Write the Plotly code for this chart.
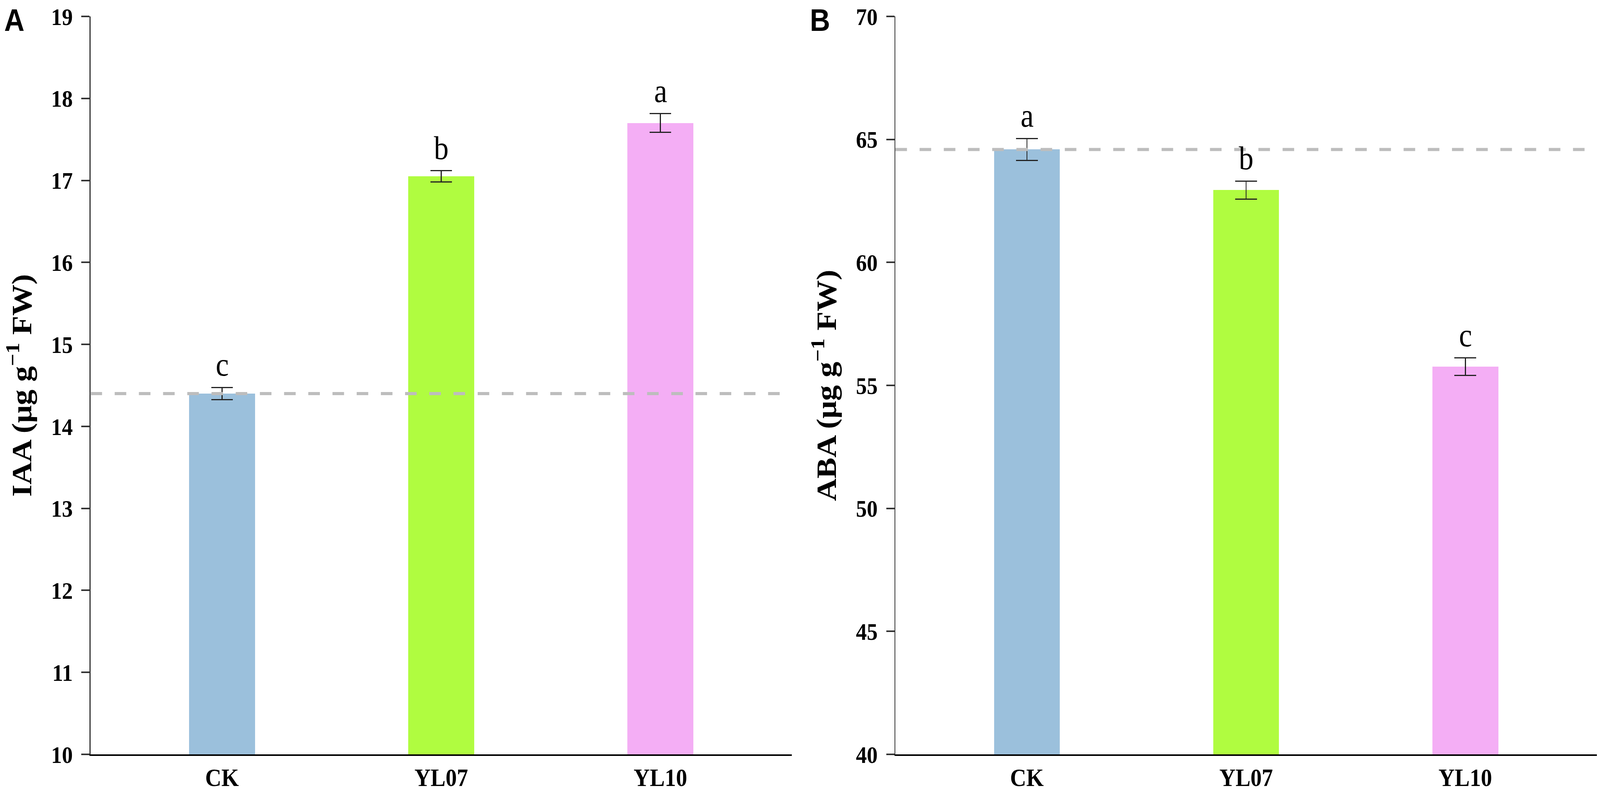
import plotly.graph_objects as go

# ---- data ----
categories = ["CK", "YL07", "YL10"]
iaa_mean = [14.40, 17.05, 17.70]
iaa_err = [0.075, 0.068, 0.114]
iaa_letters = ["c", "b", "a"]
iaa_ref = 14.40

aba_mean = [64.59, 62.94, 55.76]
aba_err = [0.45, 0.37, 0.36]
aba_letters = ["a", "b", "c"]
aba_ref = 64.59

bar_colors = ["#9bc0dc", "#b0fc40", "#f4aef5"]

W, H = 4562, 2034
ML, MR, MT, MB = 258, 9, 31, 72
serif = "Liberation Serif"
sans = "Liberation Sans"

fig = go.Figure()

panels = [
    ("x", "y", iaa_mean, iaa_err, iaa_letters, iaa_ref),
    ("x2", "y2", aba_mean, aba_err, aba_letters, aba_ref),
]
for xa, ya, mean, err, letters, ref in panels:
    fig.add_trace(go.Bar(
        x=categories, y=mean, xaxis=xa, yaxis=ya,
        width=0.3,
        marker=dict(color=bar_colors, line=dict(width=0)),
        error_y=dict(type="data", array=err, visible=True,
                     color="#222222", thickness=3, width=31),
        showlegend=False,
    ))
    for c, m, e, l in zip(categories, mean, err, letters):
        fig.add_annotation(
            x=c, y=m + e, xref=xa, yref=ya, text=l, showarrow=False,
            yanchor="bottom", yshift=10,
            font=dict(family=serif, size=84, color="black"),
        )
    fig.add_shape(
        type="line", xref=f"{xa} domain", yref=ya,
        x0=0, x1=1, y0=ref, y1=ref,
        line=dict(color="#bdbdbd", width=8, dash="33px,36px"),
        layer="above",
    )

plot_w = W - ML - MR
dA = 2000 / plot_w
dB0 = (2553 - ML) / plot_w

xcommon = dict(
    type="category", range=[-0.6, 2.6],
    showline=True, linecolor="black", linewidth=4,
    ticks="", showgrid=False, zeroline=False,
    tickfont=dict(family=serif, size=64, color="black", weight="bold"),
    ticklabeloverflow="allow",
)
ycommon = dict(
    showline=True, linecolor="#333333", linewidth=3,
    ticks="outside", ticklen=23, tickwidth=4, tickcolor="#333333",
    showgrid=False, zeroline=False,
    tickfont=dict(family=serif, size=62, color="black", weight="bold"),
    ticklabelstandoff=12, ticklabeloverflow="allow",
)

fig.update_layout(
    width=W, height=H,
    margin=dict(l=ML, r=MR, t=MT, b=MB),
    paper_bgcolor="white", plot_bgcolor="white",
    xaxis=dict(domain=[0, dA], anchor="y", **xcommon),
    xaxis2=dict(domain=[dB0, 1], anchor="y2", **xcommon),
    yaxis=dict(domain=[0, 1], anchor="x", range=[10, 19], dtick=1, **ycommon),
    yaxis2=dict(domain=[0, 1], anchor="x2", range=[40, 70], dtick=5, **ycommon),
    bargap=0,
)

# axis titles
for xp, txt in [((56 - ML) / plot_w, "IAA (μg g<sup>−1</sup> FW)"),
                ((2351 - ML) / plot_w, "ABA (μg g<sup>−1</sup> FW)")]:
    fig.add_annotation(
        x=xp, y=0.5, xref="paper", yref="paper", text=txt,
        showarrow=False, textangle=-90, xanchor="center", yanchor="middle",
        font=dict(family=serif, size=80, color="black", weight="bold"),
    )

# panel labels
for xp, txt in [((10 - ML) / plot_w, "A"), ((2307 - ML) / plot_w, "B")]:
    fig.add_annotation(
        x=xp, y=1 - (41 - MT) / (H - MT - MB), xref="paper", yref="paper",
        text=txt, showarrow=False, xanchor="left", yanchor="middle",
        font=dict(family=sans, size=80, color="black", weight="bold"),
    )

# fit the fixed-size figure to whatever viewport the page is opened in
fit_script = """
var gd = document.getElementById('{plot_id}');
document.documentElement.style.margin = '0';
document.body.style.margin = '0';
document.body.style.overflow = 'hidden';
var sx = window.innerWidth / %d, sy = window.innerHeight / %d;
if (Math.abs(sx - 1) > 0.002 || Math.abs(sy - 1) > 0.002) {
  gd.style.transformOrigin = '0 0';
  gd.style.transform = 'scale(' + sx + ',' + sy + ')';
}
""" % (W, H)

fig.write_html("out.html", post_script=fit_script,
               config={"displayModeBar": False})
